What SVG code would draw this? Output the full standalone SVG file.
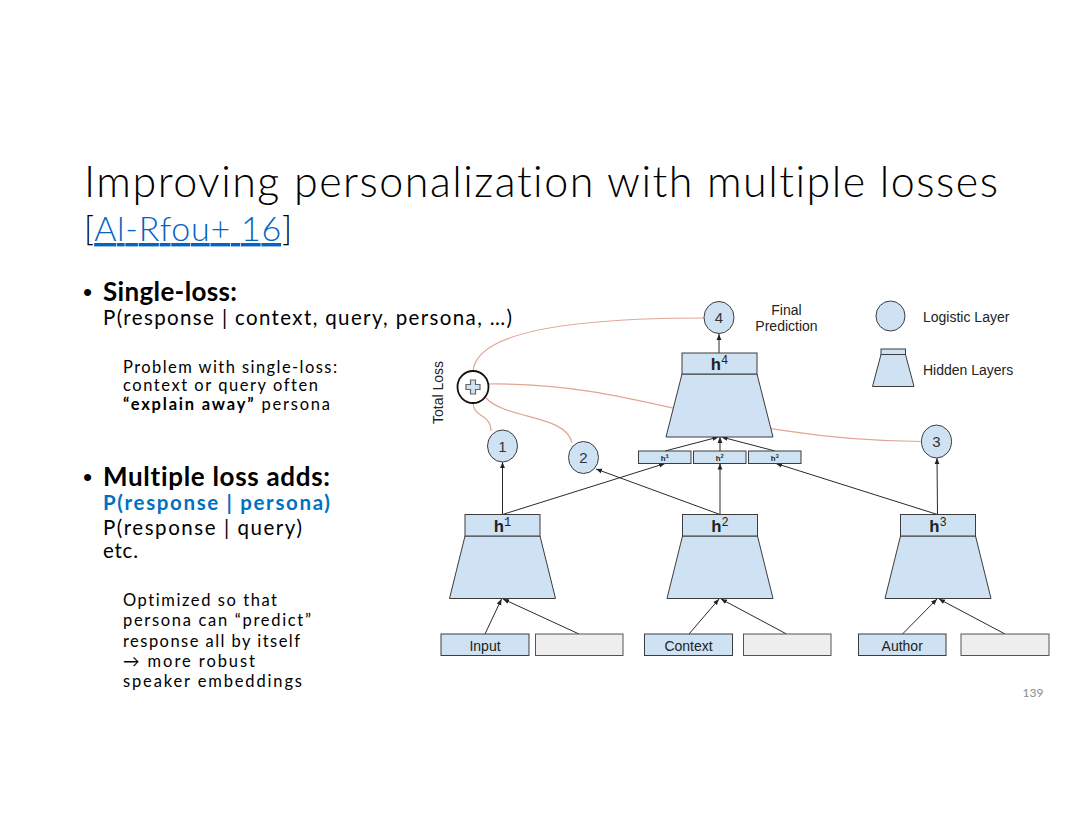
<svg xmlns="http://www.w3.org/2000/svg" width="1080" height="835" viewBox="0 0 1080 835">
<style>
.t{font-family:Lato,"Open Sans","Liberation Sans",sans-serif;fill:#000;font-variant-ligatures:none}
.title{font-size:43px;font-weight:300}
.title2{font-size:34px;font-weight:300}
.b1{font-size:26px;font-weight:bold}
.p1{font-size:20.5px}
.s1{font-size:16.5px}
.blt{font-family:"Liberation Sans",Arial,sans-serif;font-size:26px}
.node{fill:#cfe2f3;stroke:#3c3c3c;stroke-width:1}
.blank{fill:#eeeeee;stroke:#555555;stroke-width:1}
.lbl{font-family:"Liberation Sans",Arial,sans-serif;font-size:14px;fill:#222}
.num{font-family:"Liberation Sans",Arial,sans-serif;font-size:15px;fill:#333;text-anchor:middle}
.hb{font-family:"Liberation Mono","Courier New",monospace;font-weight:bold;font-size:17px;fill:#222;text-anchor:middle}
.hm{font-family:"Liberation Mono","Courier New",monospace;font-weight:bold;font-size:8px;fill:#222;text-anchor:middle}
.arr{stroke:#2a2a2a;stroke-width:1;fill:none;marker-end:url(#ah)}
.loss{stroke:#e2a593;stroke-width:1.2;fill:none}
</style>
<defs>
<marker id="ah" viewBox="0 0 10 10" refX="10" refY="5" markerWidth="6" markerHeight="6" markerUnits="userSpaceOnUse" orient="auto">
<path d="M0,1 L10,5 L0,9 z" fill="#222"/>
</marker>
</defs>
<rect width="1080" height="835" fill="#ffffff"/>

<g id="slide-text">
<text class="t title" x="84" y="197" textLength="914">Improving personalization with multiple losses</text>
<text class="t title2" x="84" y="241" textLength="208">[<tspan fill="#0563C1" text-decoration="underline">Al-Rfou+ 16</tspan>]</text>

<text class="blt" x="83" y="301">•</text>
<text class="t b1" x="103" y="301" textLength="134">Single-loss:</text>
<text class="t p1" x="103" y="324.5" textLength="409">P(response | context, query, persona, …)</text>

<text class="t s1" x="123" y="372.5" textLength="214">Problem with single-loss:</text>
<text class="t s1" x="123" y="391" textLength="195">context or query often</text>
<text class="t s1" x="123" y="410" textLength="207"><tspan font-weight="bold">“explain away”</tspan> persona</text>

<text class="blt" x="83" y="485.5">•</text>
<text class="t b1" x="103" y="485.5" textLength="227">Multiple loss adds:</text>
<text class="t p1" x="103" y="510" textLength="227" font-weight="bold" style="fill:#0070C0">P(response | persona)</text>
<text class="t p1" x="103" y="535" textLength="199">P(response | query)</text>
<text class="t p1" x="103" y="558" textLength="35">etc.</text>

<text class="t s1" x="123" y="606" textLength="154">Optimized so that</text>
<text class="t s1" x="123" y="626" textLength="188">persona can “predict”</text>
<text class="t s1" x="123" y="646.5" textLength="177">response all by itself</text>
<text class="t s1" x="123" y="666.5" textLength="132">→ more robust</text>
<text class="t s1" x="123" y="686.5" textLength="179">speaker embeddings</text>

<text x="1033" y="697" font-family="Lato,'Liberation Sans',sans-serif" font-size="12" fill="#8c8c8c" text-anchor="middle">139</text>
</g>

<g id="connectors">
<path class="loss" d="M473 371 C476 338 545 318 704 318"/>
<path class="loss" d="M488.5 384 C645 382 720 440 921.5 441.5"/>
<path class="loss" d="M473 403 C474 418 491 414 491 431"/>
<path class="loss" d="M485 397 C505 420 566 414 572 443"/>

<line class="arr" x1="485" y1="634" x2="501.5" y2="599"/>
<line class="arr" x1="579" y1="634" x2="503" y2="599"/>
<line class="arr" x1="689" y1="634" x2="719" y2="599"/>
<line class="arr" x1="786.5" y1="634" x2="721" y2="599"/>
<line class="arr" x1="902.5" y1="634" x2="937" y2="599"/>
<line class="arr" x1="1005" y1="634" x2="939" y2="599"/>

<line class="arr" x1="502.5" y1="514.5" x2="502.5" y2="462"/>
<line class="arr" x1="502.5" y1="514.5" x2="665" y2="463.5"/>
<line class="arr" x1="720" y1="514.5" x2="720" y2="463.5"/>
<line class="arr" x1="720" y1="514.5" x2="596" y2="469"/>
<line class="arr" x1="937.5" y1="514.5" x2="937" y2="458"/>
<line class="arr" x1="937.5" y1="514.5" x2="776" y2="463.5"/>

<line class="arr" x1="665" y1="451" x2="718.5" y2="437"/>
<line class="arr" x1="720" y1="451" x2="720" y2="437"/>
<line class="arr" x1="775" y1="451" x2="721.5" y2="437"/>
<line class="arr" x1="719" y1="353" x2="719" y2="334"/>
</g>

<g id="total-loss">
<ellipse cx="473" cy="387" rx="15.5" ry="16" fill="#ffffff" stroke="#111" stroke-width="1.8"/>
<path d="M470.5 380 h5 v4.5 h4.5 v5 h-4.5 v4.5 h-5 v-4.5 h-4.5 v-5 h4.5 z" fill="#cfe2f3" stroke="#666" stroke-width="1.2"/>
<text class="lbl" transform="translate(443 392.5) rotate(-90)" text-anchor="middle">Total Loss</text>
</g>

<g id="logit-1">
<ellipse class="node" cx="502.5" cy="446" rx="15" ry="16"/>
<text class="num" x="502.5" y="451.5">1</text>
</g>
<g id="logit-2">
<ellipse class="node" cx="583.5" cy="457.5" rx="15" ry="16"/>
<text class="num" x="583.5" y="463">2</text>
</g>
<g id="logit-3">
<ellipse class="node" cx="936.5" cy="441.5" rx="15" ry="16.5"/>
<text class="num" x="936.5" y="447">3</text>
</g>
<g id="logit-4">
<ellipse class="node" cx="719" cy="317.5" rx="15" ry="16"/>
<text class="num" x="719" y="323">4</text>
</g>
<g id="final-prediction-label">
<text class="lbl" x="786.5" y="315" text-anchor="middle">Final</text>
<text class="lbl" x="786.5" y="331" text-anchor="middle">Prediction</text>
</g>

<g id="hidden-4">
<path class="node" d="M682 374 L757 374 L773 437 L666 437 Z"/>
<rect class="node" x="682" y="353" width="75" height="21"/>
<text class="hb" x="719.5" y="370">h<tspan font-size="12" font-weight="normal" dy="-6">4</tspan></text>
</g>

<g id="concat">
<rect class="node" x="638.5" y="451" width="52.5" height="12.5"/>
<text class="hm" x="664.7" y="460.5">h<tspan font-size="5.5" dy="-3">1</tspan></text>
<rect class="node" x="693.5" y="451" width="52.5" height="12.5"/>
<text class="hm" x="719.7" y="460.5">h<tspan font-size="5.5" dy="-3">2</tspan></text>
<rect class="node" x="748.5" y="451" width="52.5" height="12.5"/>
<text class="hm" x="774.7" y="460.5">h<tspan font-size="5.5" dy="-3">3</tspan></text>
</g>

<g id="hidden-1">
<path class="node" d="M465 536 L540 536 L555.5 598.5 L449.5 598.5 Z"/>
<rect class="node" x="465" y="514.5" width="75" height="21.5"/>
<text class="hb" x="502.5" y="531.5">h<tspan font-size="12" font-weight="normal" dy="-6">1</tspan></text>
</g>
<g id="hidden-2">
<path class="node" d="M682.5 536 L757.5 536 L773 598.5 L667 598.5 Z"/>
<rect class="node" x="682.5" y="514.5" width="75" height="21.5"/>
<text class="hb" x="720" y="531.5">h<tspan font-size="12" font-weight="normal" dy="-6">2</tspan></text>
</g>
<g id="hidden-3">
<path class="node" d="M900.5 536 L975.5 536 L991 598.5 L885 598.5 Z"/>
<rect class="node" x="900.5" y="514.5" width="75" height="21.5"/>
<text class="hb" x="938" y="531.5">h<tspan font-size="12" font-weight="normal" dy="-6">3</tspan></text>
</g>

<g id="input">
<rect class="node" x="441" y="634" width="88" height="21.5"/>
<text class="lbl" x="485" y="650.5" text-anchor="middle">Input</text>
</g>
<g id="input-blank">
<rect class="blank" x="535.5" y="634" width="87.5" height="21.5"/>
</g>
<g id="context">
<rect class="node" x="644.5" y="634" width="88" height="21.5"/>
<text class="lbl" x="688.5" y="650.5" text-anchor="middle">Context</text>
</g>
<g id="context-blank">
<rect class="blank" x="743.5" y="634" width="87.5" height="21.5"/>
</g>
<g id="author">
<rect class="node" x="858.5" y="634" width="87.5" height="21.5"/>
<text class="lbl" x="902.2" y="650.5" text-anchor="middle">Author</text>
</g>
<g id="author-blank">
<rect class="blank" x="961" y="634" width="88" height="21.5"/>
</g>

<g id="legend-logistic">
<ellipse class="node" cx="890.5" cy="316" rx="14.5" ry="15"/>
<text class="lbl" x="923" y="321.5">Logistic Layer</text>
</g>
<g id="legend-hidden">
<path class="node" d="M881 354.5 L905.5 354.5 L914 386.5 L872.5 386.5 Z"/>
<rect class="node" x="881" y="349" width="24.5" height="5.5"/>
<text class="lbl" x="923" y="375">Hidden Layers</text>
</g>
</svg>
